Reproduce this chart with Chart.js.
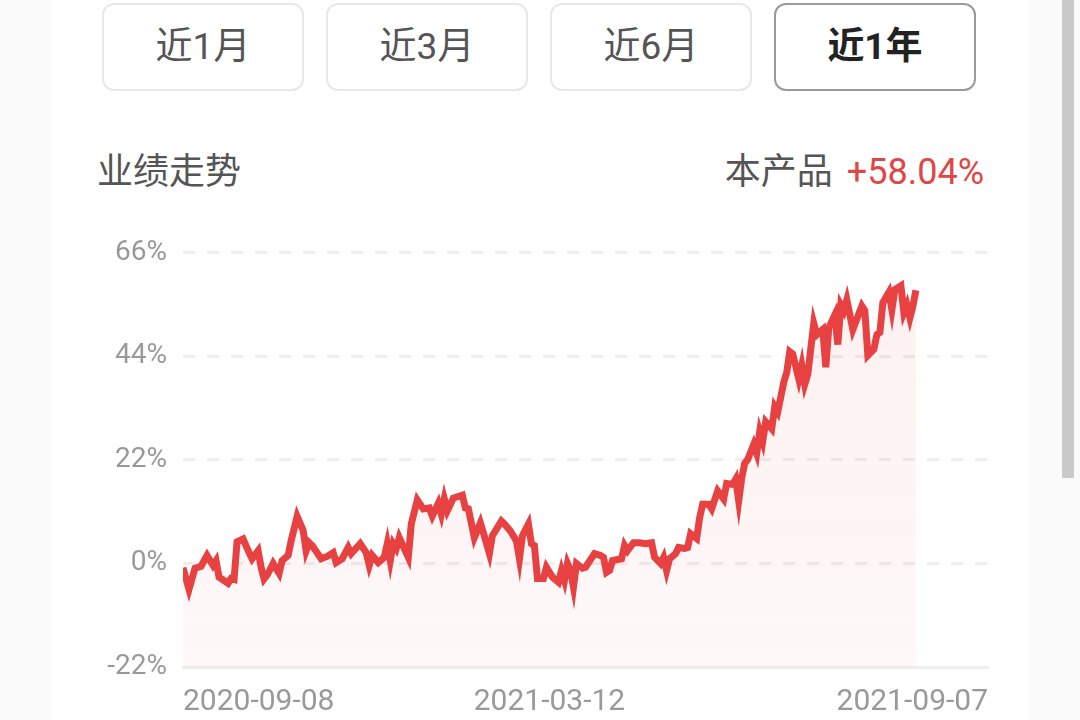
<!DOCTYPE html>
<html>
<head>
<meta charset="utf-8">
<script src="https://cdn.jsdelivr.net/npm/chart.js@4.4.0/dist/chart.umd.min.js"></script>
<style>
    body { margin: 0; width: 1080px; height: 720px; overflow: hidden; background: #fff; font-family: Roboto, "Noto Sans CJK SC", sans-serif; }
    .strip { position: absolute; top: 0; height: 720px; background: #fafafa; }
    .scroll { position: absolute; left: 1062px; top: 0; width: 12px; height: 478px; background: #c9c9c9; }
    .btn { position: absolute; top: 3px; width: 198px; height: 84px; border: 2px solid #e8e8e8; border-radius: 12px;
        font-size: 37px; color: #555; text-align: center; line-height: 84px; }
    .btn.on { border-color: #9a9a9a; color: #222; font-weight: bold; }
    .title { position: absolute; left: 97px; top: 148px; font-size: 36px; color: #555; line-height: 48px; }
    .right { position: absolute; right: 96px; top: 148px; font-size: 36px; color: #555; line-height: 48px; }
    .right span { color: #df4646; margin-left: 14px; }
    #wrap { position: absolute; left: 0; top: 220px; width: 1080px; height: 500px; }
</style>
</head>
<body>
<div class="strip" style="left:0;width:50px"></div>
<div class="strip" style="left:1029px;width:51px"></div>
<div class="scroll"></div>

<div class="btn" style="left:102px">近1月</div>
<div class="btn" style="left:326px">近3月</div>
<div class="btn" style="left:550px">近6月</div>
<div class="btn on" style="left:774px">近1年</div>

<div class="title">业绩走势</div>
<div class="right">本产品<span>+58.04%</span></div>

<div id="wrap"><canvas id="perf" width="1080" height="500"></canvas></div>

<script>
// trading day index since 2020-09-08
var days = [0, 2, 4, 6, 8, 10, 11, 12, 15, 16, 17, 18, 20, 22, 23, 25, 26, 27, 28, 30,
    32, 33, 35, 36, 38, 40, 41, 42, 43, 46, 48, 50, 51, 53, 55, 56, 59, 61, 62, 63,
    65, 67, 68, 69, 70, 71, 72, 75, 76, 78, 80, 82, 83, 85, 86, 87, 88, 90, 93, 94,
    95, 97, 99, 100, 102, 103, 106, 107, 109, 111, 112, 113, 115, 116, 117, 118, 120, 121, 123, 125,
    126, 127, 128, 129, 130, 131, 133, 134, 137, 139, 140, 141, 142, 143, 146, 147, 148, 150, 152, 154,
    156, 157, 159, 160, 161, 162, 164, 165, 167, 168, 169, 171, 172, 173, 175, 176, 178, 180, 181, 183,
    184, 185, 186, 187, 188, 190, 191, 192, 193, 194, 196, 197, 198, 200, 201, 202, 203, 205, 206, 207,
    208, 210, 211, 213, 214, 215, 217, 218, 219, 220, 221, 223, 226, 227, 228, 230, 231, 232, 233, 235,
    236, 237, 239, 240, 241, 242, 243, 244];

// cumulative return, %
var returns = [-0.9, -5.5, -1, -0.6, 1.7, -0.4, 0.6, -2.9, -4.2, -3.2, -3.4, 4.6, 5.2, 2.3, 1, 2.7, -0.8, -3.3, -2.5, 0,
    -2.1, 0.6, 1.7, 4.8, 10, 7, 2.7, 4.4, 3.8, 1, 1.5, 2.3, 0.2, 1, 3.4, 2.1, 4.2, 2.3, -0.4, 1.7,
    0.2, 1.3, 4.2, 0.6, 4.2, 3.2, 5.5, 1.3, 8.4, 13.5, 11.6, 11.8, 10.1, 12.8, 10.5, 13.7, 11.2, 13.9, 14.5, 11.8,
    11.6, 5.5, 8.6, 6.5, 2.1, 5.9, 9, 8.4, 6.9, 4.8, 1, 5.9, 8.4, 4.2, 3.8, -3.2, -3.2, -0.8, -2.9, -4,
    -1.5, -3.6, 0, -1.5, -5, 0, -1, -0.8, 2.1, 1.7, 1.3, -1.9, -1.5, 0.6, 1, 3.8, 2.7, 4.4, 4.4, 4.2,
    4.4, 1.3, 0, 1.3, -1.5, 1, 2.1, 3.4, 3.2, 3.4, 6.3, 5.3, 9.7, 12.6, 12.6, 11.6, 15.4, 13.7, 17, 16.8,
    17.9, 13.3, 18.1, 21.3, 22.1, 25.3, 23.4, 28, 25.9, 30.1, 28.6, 33.3, 32.2, 38.5, 40.6, 45, 44.5, 39.2, 42.1, 38.1,
    40.2, 51, 48.6, 49.7, 41.7, 50.1, 52.8, 46.5, 54.9, 53.7, 56, 49.7, 54.7, 53.7, 44.2, 45.5, 48.6, 49.1, 55.4, 57.6,
    53.9, 58.2, 59, 53.3, 54.9, 52.2, 54.7, 58.04];

var dayTicks = [0, 122, 268];
var dateLabels = ['2020-09-08', '2021-03-12', '2021-09-07'];
var pctTicks = [-22, 0, 22, 44, 66];

var points = days.map(function (d, i) { return { x: d, y: returns[i] }; });

var ctx = document.getElementById('perf').getContext('2d');

var perfChart = new Chart(ctx, {
    type: 'line',
    data: {
        datasets: [{
            data: points,
            borderColor: '#e84142',
            borderWidth: 7,
            pointRadius: 0,
            tension: 0,
            fill: 'start',
            backgroundColor: function (c) {
                var area = c.chart.chartArea;
                if (!area) return 'rgba(232,65,66,0.06)';
                var g = c.chart.ctx.createLinearGradient(0, area.top, 0, area.bottom);
                g.addColorStop(0, 'rgba(232,65,66,0.08)');
                g.addColorStop(1, 'rgba(232,65,66,0.035)');
                return g;
            }
        }]
    },
    options: {
        responsive: false,
        animation: false,
        layout: { padding: { left: 0, right: 92, top: 28, bottom: 0 } },
        plugins: { legend: { display: false }, tooltip: { enabled: false } },
        scales: {
            x: {
                type: 'linear',
                min: 0,
                max: 268,
                afterBuildTicks: function (s) { s.ticks = dayTicks.map(function (v) { return { value: v }; }); },
                afterFit: function (s) { s.height = 53; },
                grid: { display: false, drawTicks: false },
                border: { display: true, color: '#eeeeee', width: 3 },
                ticks: {
                    align: 'inner',
                    maxRotation: 0,
                    padding: 17,
                    color: '#999',
                    font: { family: 'Roboto', size: 30 },
                    callback: function (v) { return dateLabels[dayTicks.indexOf(v)]; }
                }
            },
            y: {
                min: -22,
                max: 66,
                afterBuildTicks: function (s) { s.ticks = pctTicks.map(function (v) { return { value: v }; }); },
                afterFit: function (s) { s.width = 183; },
                grid: { color: '#eeeeee', lineWidth: 3, drawTicks: false },
                border: { display: false, dash: [12, 12] },
                ticks: {
                    padding: 16,
                    color: '#999',
                    font: { family: 'Roboto', size: 28 },
                    callback: function (v) { return v + '%'; }
                }
            }
        }
    }
});
</script>
</body>
</html>
